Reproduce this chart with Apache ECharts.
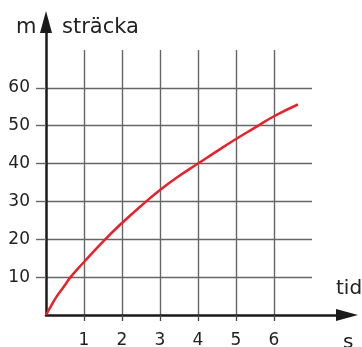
<!DOCTYPE html>
<html><head><meta charset="utf-8">
<script src="https://cdn.jsdelivr.net/npm/echarts@6/dist/echarts.min.js"></script>
<style>html,body{margin:0;padding:0;background:#fff}#c{width:362px;height:347px}</style>
</head><body><div id="c"></div>
<script>
// time (s)
const tid = [0, 0.1, 0.25, 0.5, 0.63, 1, 1.5, 2, 2.5, 3, 3.5, 4, 4.5, 5, 5.5, 6, 6.63];
// distance (m)
const stracka = [0, 1.8, 4.4, 7.9, 9.8, 14, 19.4, 24.3, 28.8, 33, 36.7, 40, 43.3, 46.5, 49.5, 52.5, 55.6];
const xTicks = [1, 2, 3, 4, 5, 6];
const yTicks = [10, 20, 30, 40, 50, 60];

const font = 'DejaVu Sans';
const chart = echarts.init(document.getElementById('c'), null, {renderer: 'canvas'});
chart.setOption({
  animation: false,
  grid: [
    {left: 46, right: 50, top: 50, bottom: 32, containLabel: false, outerBoundsMode: 'none'},
    {left: 46, right: 15, top: 22, bottom: 32, containLabel: false, outerBoundsMode: 'none'}
  ],
  xAxis: [
    {type: 'value', gridIndex: 0, min: 0, max: 7, interval: 1,
     axisLine: {show: false},
     axisTick: {show: true, length: 6, customValues: xTicks, lineStyle: {color: '#444', width: 1.3}},
     axisLabel: {customValues: xTicks, margin: 17, color: '#222', fontFamily: font, fontSize: 17},
     splitLine: {show: true, lineStyle: {color: '#666', width: 1.4}}},
    {type: 'value', gridIndex: 1, min: 0, max: 1,
     axisLine: {show: true, symbol: ['none', 'triangle'], symbolSize: [12, 22], lineStyle: {color: '#1a1a1a', width: 2.5}},
     axisTick: {show: false}, axisLabel: {show: false}, splitLine: {show: false}}
  ],
  yAxis: [
    {type: 'value', gridIndex: 0, min: 0, max: 70, interval: 10,
     axisLine: {show: false},
     axisTick: {show: true, length: 10, customValues: yTicks, lineStyle: {color: '#666', width: 1.4}},
     axisLabel: {customValues: yTicks, margin: 16, color: '#222', fontFamily: font, fontSize: 17},
     splitLine: {show: true, lineStyle: {color: '#666', width: 1.4}}},
    {type: 'value', gridIndex: 1, min: 0, max: 1,
     axisLine: {show: true, symbol: ['none', 'triangle'], symbolSize: [12, 22], lineStyle: {color: '#1a1a1a', width: 2.5}},
     axisTick: {show: false}, axisLabel: {show: false}, splitLine: {show: false}}
  ],
  series: [{
    type: 'line', xAxisIndex: 0, yAxisIndex: 0, smooth: 0.5, showSymbol: false,
    lineStyle: {color: '#e8222a', width: 2.5},
    data: tid.map((t, i) => [t, stracka[i]]),
    z: 5
  }],
  graphic: [
    {type: 'text', left: 16, top: 17, style: {text: 'm', font: '21px "DejaVu Sans"', fill: '#222'}},
    {type: 'text', left: 62, top: 17, style: {text: 'sträcka', font: '21px "DejaVu Sans"', fill: '#222'}},
    {type: 'text', left: 336, top: 279, style: {text: 'tid', font: '20px "DejaVu Sans"', fill: '#222'}},
    {type: 'text', left: 343, top: 333, style: {text: 's', font: '20px "DejaVu Sans"', fill: '#222'}}
  ]
});
</script></body></html>
